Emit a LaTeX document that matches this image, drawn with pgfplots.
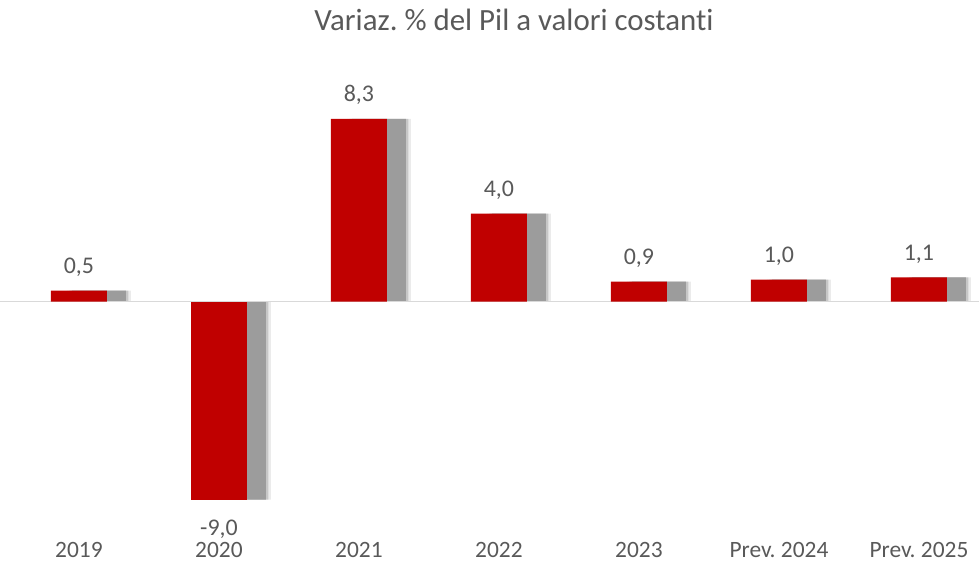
\documentclass[border=0pt]{standalone}
\usepackage{pgfplots}
\pgfplotsset{compat=1.18}
\usepackage{fontspec}
\setmainfont{Carlito}[Ligatures={NoCommon}]
\frenchspacing
\definecolor{barred}{HTML}{C00000}
\definecolor{txt}{HTML}{595959}
\definecolor{shadowc}{HTML}{9C9C9C}
\definecolor{zeroline}{HTML}{D9D9D9}
\begin{document}
\begin{tikzpicture}
\begin{axis}[
  scale only axis, width=979bp, height=563bp,
  xmin=-0.564, xmax=6.429, ymin=-11.886, ymax=13.705,
  axis line style={draw=none}, major tick length=0pt,
  xtick={0,...,6},
  xticklabels={2019,2020,2021,2022,2023,Prev. 2024,Prev. 2025},
  xticklabel style={anchor=base, yshift=6bp, inner sep=0pt, font=\fontsize{23.5}{28}\selectfont, text=txt},
  ytick=\empty,
  clip=false,
]
\coordinate (sw) at (rel axis cs:0,0);
\coordinate (ne) at (rel axis cs:1,1);
% blurred shadow
\addplot[ybar, bar width=64bp, bar shift=20bp, fill=shadowc, draw=none, opacity=0.2]
  coordinates {(0,0.5) (1,-9.0) (2,8.3) (3,4.0) (4,0.9) (5,1.0) (6,1.1)};
\addplot[ybar, bar width=59bp, bar shift=20bp, fill=shadowc, draw=none, opacity=0.45]
  coordinates {(0,0.5) (1,-9.0) (2,8.3) (3,4.0) (4,0.9) (5,1.0) (6,1.1)};
\addplot[ybar, bar width=54bp, bar shift=20bp, fill=shadowc, draw=none]
  coordinates {(0,0.5) (1,-9.0) (2,8.3) (3,4.0) (4,0.9) (5,1.0) (6,1.1)};
% zero line
\addplot[zeroline, line width=1.6bp] coordinates {(-0.564,0) (6.429,0)};
% red bars, positive
\addplot[ybar, bar width=56bp, bar shift=0bp, fill=barred, draw=none,
  nodes near coords, point meta=y,
  every node near coord/.append style={font=\fontsize{24}{28}\selectfont, text=txt, inner ysep=14bp,
    /pgf/number format/.cd, use comma, fixed, fixed zerofill, precision=1, assume math mode=true}]
  coordinates {(0,0.5) (2,8.3) (3,4.0) (4,0.9) (5,1.0) (6,1.1)};
% red bar, negative
\addplot[ybar, bar width=56bp, bar shift=0bp, fill=barred, draw=none,
  nodes near coords, point meta=y,
  every node near coord/.append style={font=\fontsize{24}{28}\selectfont, text=txt, inner ysep=20bp,
    /pgf/number format/.cd, use comma, fixed, fixed zerofill, precision=1, assume math mode=true}]
  coordinates {(1,-9.0)};
\node[anchor=base, font=\fontsize{31}{36}\selectfont, text=txt] at (rel axis cs:0.525,0.945) {Variaz. \% del Pil a valori costanti};
\end{axis}
\pgfresetboundingbox
\path[use as bounding box] (sw) rectangle (ne);
\end{tikzpicture}
\end{document}
